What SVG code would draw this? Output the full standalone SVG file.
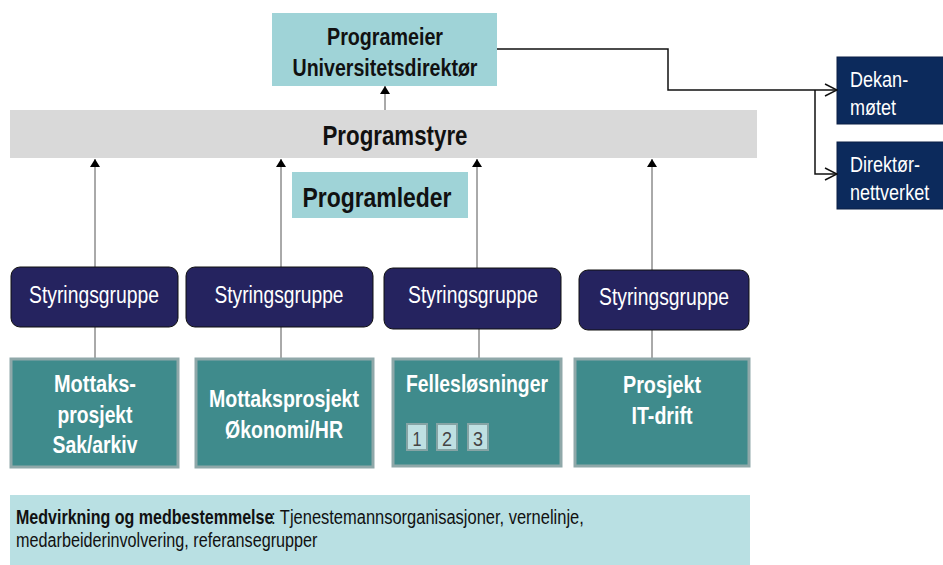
<svg xmlns="http://www.w3.org/2000/svg" width="943" height="565" viewBox="0 0 943 565">
<defs>
<style>
text{font-family:"Liberation Sans",Arial,sans-serif;}
.b{font-weight:bold;}
.blk{fill:#111;}
.wh{fill:#fff;}
.teal{fill:#3f8b8c;stroke:#8fa8a9;stroke-width:3;}
.sg{fill:#25235f;stroke:#111;stroke-width:1;}
.navy{fill:#0c2a5c;stroke:#0a1f44;stroke-width:1;}
.num{fill:#bfe0e2;stroke:#86a4a5;stroke-width:2;}
.ln{stroke:#555;stroke-width:1;fill:none;}
.ln2{stroke:#111;stroke-width:1.5;fill:none;}
</style>
<marker id="ah" markerWidth="8" markerHeight="10" refX="8" refY="5" orient="auto" markerUnits="userSpaceOnUse">
<path d="M0,0 L8,5 L0,10 Z" fill="#000"/>
</marker>
<marker id="oh" markerWidth="14" markerHeight="14" refX="13" refY="7" orient="auto" markerUnits="userSpaceOnUse">
<path d="M1,1 L13,7 L1,13" fill="none" stroke="#111" stroke-width="1.5"/>
</marker>
</defs>
<rect width="943" height="565" fill="#fff"/>

<g id="programstyre">
<rect x="10" y="110" width="747" height="48" fill="#d9d9d9"/>
<text x="395" y="145" text-anchor="middle" class="b blk" font-size="28" textLength="145" lengthAdjust="spacingAndGlyphs">Programstyre</text>
</g>

<g id="programeier">
<rect x="272" y="13" width="225" height="73" fill="#9fd3d7"/>
<text x="385" y="45" text-anchor="middle" class="b blk" font-size="23" textLength="116" lengthAdjust="spacingAndGlyphs">Programeier</text>
<text x="385" y="76" text-anchor="middle" class="b blk" font-size="23" textLength="185" lengthAdjust="spacingAndGlyphs">Universitetsdirektør</text>
</g>

<g id="programleder">
<rect x="292" y="172" width="176" height="46" fill="#9fd3d7"/>
<text x="377" y="207" text-anchor="middle" class="b blk" font-size="28" textLength="149" lengthAdjust="spacingAndGlyphs">Programleder</text>
</g>

<g id="dekanmotet">
<rect x="837" y="57" width="110" height="67" class="navy"/>
<g transform="translate(850,0) scale(0.82,1)">
<text x="0" y="87" class="wh" font-size="22">Dekan-</text>
<text x="0" y="115" class="wh" font-size="22">møtet</text>
</g>
</g>

<g id="direktornettverket">
<rect x="837" y="142" width="110" height="67" class="navy"/>
<g transform="translate(850,0) scale(0.82,1)">
<text x="0" y="172" class="wh" font-size="22">Direktør-</text>
<text x="0" y="200" class="wh" font-size="22">nettverket</text>
</g>
</g>

<g id="connectors">
<line x1="385" y1="110" x2="385" y2="86" class="ln" marker-end="url(#ah)"/>
<polyline points="497,49 668,49 668,90 837,90" class="ln2" marker-end="url(#oh)"/>
<polyline points="815,90 815,174 837,174" class="ln2" marker-end="url(#oh)"/>
<line x1="95" y1="267" x2="95" y2="159" class="ln" marker-end="url(#ah)"/>
<line x1="281" y1="267" x2="281" y2="159" class="ln" marker-end="url(#ah)"/>
<line x1="477" y1="268" x2="477" y2="159" class="ln" marker-end="url(#ah)"/>
<line x1="652" y1="270" x2="652" y2="159" class="ln" marker-end="url(#ah)"/>
<line x1="95" y1="327" x2="95" y2="358" class="ln"/>
<line x1="281" y1="327" x2="281" y2="358" class="ln"/>
<line x1="479" y1="329" x2="479" y2="358" class="ln"/>
<line x1="652" y1="330" x2="652" y2="358" class="ln"/>
</g>

<g id="sg1">
<rect x="11" y="267" width="167" height="60" rx="9" class="sg"/>
<text x="94" y="303" text-anchor="middle" class="wh" font-size="23" textLength="130" lengthAdjust="spacingAndGlyphs">Styringsgruppe</text>
</g>
<g id="sg2">
<rect x="186" y="267" width="187" height="60" rx="9" class="sg"/>
<text x="279" y="303" text-anchor="middle" class="wh" font-size="23" textLength="129" lengthAdjust="spacingAndGlyphs">Styringsgruppe</text>
</g>
<g id="sg3">
<rect x="384" y="268" width="177" height="61" rx="9" class="sg"/>
<text x="473" y="303" text-anchor="middle" class="wh" font-size="23" textLength="130" lengthAdjust="spacingAndGlyphs">Styringsgruppe</text>
</g>
<g id="sg4">
<rect x="579" y="270" width="170" height="60" rx="9" class="sg"/>
<text x="664" y="305" text-anchor="middle" class="wh" font-size="23" textLength="130" lengthAdjust="spacingAndGlyphs">Styringsgruppe</text>
</g>

<g id="p1">
<rect x="11" y="359" width="167" height="108" class="teal"/>
<text x="95" y="392" text-anchor="middle" class="b wh" font-size="24" textLength="82" lengthAdjust="spacingAndGlyphs">Mottaks-</text>
<text x="95" y="423" text-anchor="middle" class="b wh" font-size="24" textLength="75" lengthAdjust="spacingAndGlyphs">prosjekt</text>
<text x="95" y="453" text-anchor="middle" class="b wh" font-size="24" textLength="85" lengthAdjust="spacingAndGlyphs">Sak/arkiv</text>
</g>
<g id="p2">
<rect x="196" y="359" width="177" height="108" class="teal"/>
<text x="284" y="407" text-anchor="middle" class="b wh" font-size="24" textLength="150" lengthAdjust="spacingAndGlyphs">Mottaksprosjekt</text>
<text x="284" y="438" text-anchor="middle" class="b wh" font-size="24" textLength="118" lengthAdjust="spacingAndGlyphs">Økonomi/HR</text>
</g>
<g id="p3">
<rect x="393" y="359" width="168" height="107" class="teal"/>
<text x="477" y="392" text-anchor="middle" class="b wh" font-size="24" textLength="142" lengthAdjust="spacingAndGlyphs">Fellesløsninger</text>
<rect x="407" y="424" width="20" height="26" class="num"/>
<text x="417" y="446" text-anchor="middle" fill="#444" font-size="21" textLength="9" lengthAdjust="spacingAndGlyphs">1</text>
<rect x="437" y="424" width="20" height="26" class="num"/>
<text x="447" y="446" text-anchor="middle" fill="#444" font-size="21" textLength="10" lengthAdjust="spacingAndGlyphs">2</text>
<rect x="468" y="424" width="20" height="26" class="num"/>
<text x="478" y="446" text-anchor="middle" fill="#444" font-size="21" textLength="10" lengthAdjust="spacingAndGlyphs">3</text>
</g>
<g id="p4">
<rect x="575" y="359" width="174" height="107" class="teal"/>
<text x="662" y="393" text-anchor="middle" class="b wh" font-size="24" textLength="78" lengthAdjust="spacingAndGlyphs">Prosjekt</text>
<text x="662" y="424" text-anchor="middle" class="b wh" font-size="24" textLength="61" lengthAdjust="spacingAndGlyphs">IT-drift</text>
</g>

<g id="medvirkning">
<rect x="10" y="495" width="740" height="70" fill="#b9e0e3"/>
<text transform="translate(16,524) scale(0.802,1)" class="b blk" font-size="20">Medvirkning og medbestemmelse</text>
<text transform="translate(271,524) scale(0.824,1)" class="blk" font-size="20">: Tjenestemannsorganisasjoner, vernelinje,</text>
<text transform="translate(16,547) scale(0.81,1)" class="blk" font-size="20">medarbeiderinvolvering, referansegrupper</text>
</g>
</svg>
